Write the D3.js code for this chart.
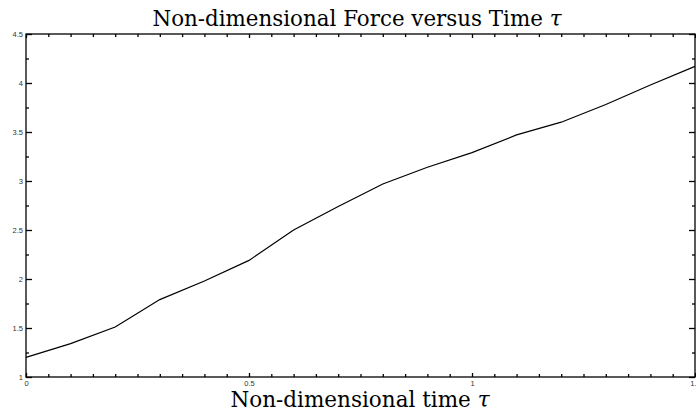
<!DOCTYPE html>
<html>
<head>
<meta charset="utf-8">
<script src="https://cdn.jsdelivr.net/npm/d3@7"></script>
<style>
  html, body { margin: 0; padding: 0; background: #fff; }
  svg { display: block; }
</style>
</head>
<body>
<svg id="chart" width="696" height="415"></svg>
<script>
// Non-dimensional force sampled every 0.1 in tau
const tau = [0, 0.1, 0.2, 0.3, 0.4, 0.5, 0.6, 0.7, 0.8, 0.9, 1.0, 1.1, 1.2, 1.3, 1.4, 1.5];
const force = [1.2, 1.34, 1.51, 1.79, 1.98, 2.19, 2.5, 2.74, 2.97, 3.14, 3.29, 3.47, 3.6, 3.78, 3.98, 4.17];
const xMajorTicks = [0, 0.5, 1, 1.5];
const xTickLabels = ["0", "0.5", "1", "1.5"];
const yMajorTicks = [1, 1.5, 2, 2.5, 3, 3.5, 4, 4.5];
const yTickLabels = ["1", "1.5", "2", "2.5", "3", "3.5", "4", "4.5"];

const titleText = "Non-dimensional Force versus Time ";
const xLabelText = "Non-dimensional time ";

const svg = d3.select("#chart");
const m = { left: 26, right: 695, top: 34, bottom: 377 };

const x = d3.scaleLinear().domain([0, 1.5]).range([m.left, m.right]);
const y = d3.scaleLinear().domain([1, 4.5]).range([m.bottom, m.top]);

const xMinor = d3.range(0, 31).map(i => i * 0.05).filter(v => !xMajorTicks.some(t => Math.abs(t - v) < 1e-9));
const yMinor = d3.range(0, 8).map(i => 1.25 + i * 0.5).filter(v => v < 4.5);

const tickFont = "Liberation Sans, Arial, sans-serif";
const serif = "DejaVu Serif, serif";

// frame
svg.append("rect")
  .attr("x", m.left).attr("y", m.top)
  .attr("width", m.right - m.left).attr("height", m.bottom - m.top)
  .attr("fill", "none").attr("stroke", "#000").attr("stroke-width", 1.3);

// axes with inward ticks
const bottomAxis = d3.axisBottom(x).tickValues(xMajorTicks).tickSizeInner(-4).tickSizeOuter(0)
  .tickPadding(4).tickFormat((d, i) => xTickLabels[i]);
const topAxis = d3.axisTop(x).tickValues(xMajorTicks).tickSizeInner(-4).tickSizeOuter(0).tickFormat("");
const leftAxis = d3.axisLeft(y).tickValues(yMajorTicks).tickSizeInner(-6).tickSizeOuter(0)
  .tickPadding(3).tickFormat((d, i) => yTickLabels[i]);
const rightAxis = d3.axisRight(y).tickValues(yMajorTicks).tickSizeInner(-6).tickSizeOuter(0).tickFormat("");

function styleAxis(g) {
  g.select(".domain").remove();
  g.selectAll(".tick line").attr("stroke", "#000").attr("stroke-width", 1.3);
  g.selectAll(".tick text").attr("fill", "#333").style("font-family", tickFont).style("font-size", "7.5px");
}

svg.append("g").attr("transform", `translate(0,${m.bottom})`).call(bottomAxis).call(styleAxis);
svg.append("g").attr("transform", `translate(0,${m.top})`).call(topAxis).call(styleAxis);
svg.append("g").attr("transform", `translate(${m.left},0)`).call(leftAxis).call(styleAxis);
svg.append("g").attr("transform", `translate(${m.right},0)`).call(rightAxis).call(styleAxis);

// minor ticks
const xMinorB = d3.axisBottom(x).tickValues(xMinor).tickSizeInner(-3).tickSizeOuter(0).tickFormat("");
const xMinorT = d3.axisTop(x).tickValues(xMinor).tickSizeInner(-3).tickSizeOuter(0).tickFormat("");
const yMinorL = d3.axisLeft(y).tickValues(yMinor).tickSizeInner(-3).tickSizeOuter(0).tickFormat("");
const yMinorR = d3.axisRight(y).tickValues(yMinor).tickSizeInner(-3).tickSizeOuter(0).tickFormat("");
svg.append("g").attr("transform", `translate(0,${m.bottom})`).call(xMinorB).call(styleAxis);
svg.append("g").attr("transform", `translate(0,${m.top})`).call(xMinorT).call(styleAxis);
svg.append("g").attr("transform", `translate(${m.left},0)`).call(yMinorL).call(styleAxis);
svg.append("g").attr("transform", `translate(${m.right},0)`).call(yMinorR).call(styleAxis);

// force curve
const line = d3.line().x((d, i) => x(tau[i])).y(d => y(d));
svg.append("path")
  .datum(force)
  .attr("d", line)
  .attr("fill", "none")
  .attr("stroke", "#000")
  .attr("stroke-width", 1.2);

// title
const title = svg.append("text")
  .attr("x", 357).attr("y", 26)
  .attr("text-anchor", "middle")
  .style("font-family", serif).style("font-size", "21.4px").attr("fill", "#000");
title.append("tspan").text(titleText);
title.append("tspan").style("font-style", "italic").text("τ");

// x label
const xl = svg.append("text")
  .attr("x", 360).attr("y", 407)
  .attr("text-anchor", "middle")
  .style("font-family", serif).style("font-size", "21.5px").attr("fill", "#000");
xl.append("tspan").text(xLabelText);
xl.append("tspan").style("font-style", "italic").text("τ");
</script>
</body>
</html>
